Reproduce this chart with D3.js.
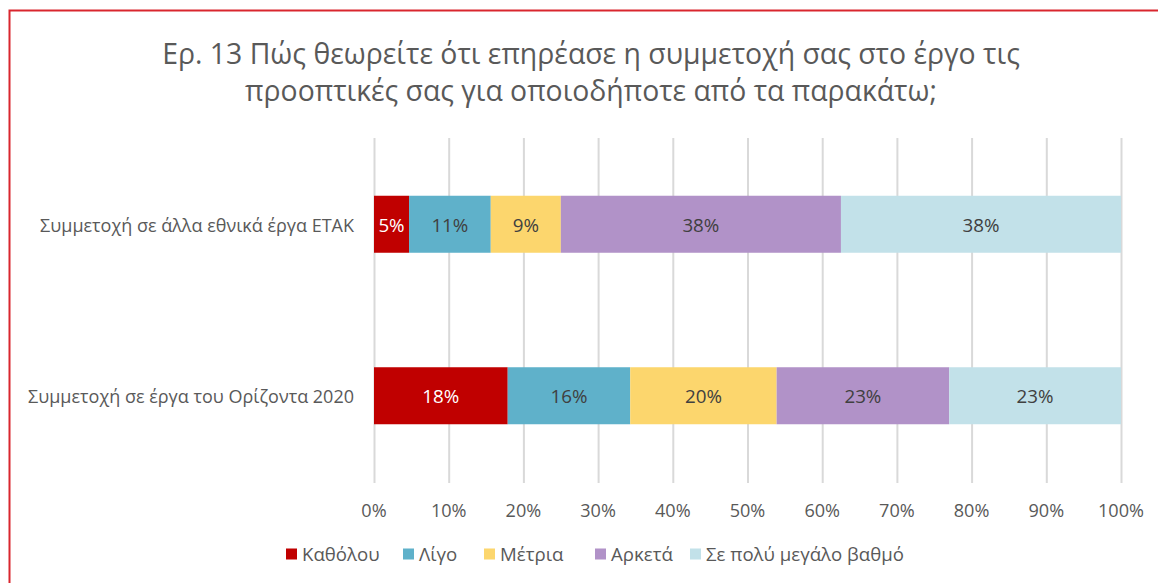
<!DOCTYPE html>
<html><head><meta charset="utf-8">
<script src="https://cdn.jsdelivr.net/npm/d3@7"></script>
<style>
html,body{margin:0;padding:0;background:#fff;}
svg{display:block;font-family:"Open Sans","Noto Sans",sans-serif;}
</style></head>
<body><svg id="chart" width="1158" height="583"></svg>
<script>
const titleLines = ["Ερ. 13 Πώς θεωρείτε ότι επηρέασε η συμμετοχή σας στο έργο τις", "προοπτικές σας για οποιοδήποτε από τα παρακάτω;"];
const categories = ["Συμμετοχή σε άλλα εθνικά έργα ΕΤΑΚ", "Συμμετοχή σε έργα του Ορίζοντα 2020"];
const seriesNames = ["Καθόλου", "Λίγο", "Μέτρια", "Αρκετά", "Σε πολύ μεγάλο βαθμό"];
const seriesColors = ["#C00000", "#5FB1CA", "#FCD66D", "#B192C8", "#C2E1E9"];
const labelColors = ["#ffffff", "#404040", "#404040", "#404040", "#404040"];
// values in % per category, per series
const valuesETAK = [4.69, 10.94, 9.38, 37.5, 37.5];
const valuesH2020 = [17.9, 16.4, 19.6, 23.1, 23.0];
const dataLabelsETAK = ["5%", "11%", "9%", "38%", "38%"];
const dataLabelsH2020 = ["18%", "16%", "20%", "23%", "23%"];
const xTicks = [0, 10, 20, 30, 40, 50, 60, 70, 80, 90, 100];

const rows = [
  {cat: categories[0], vals: valuesETAK, labels: dataLabelsETAK},
  {cat: categories[1], vals: valuesH2020, labels: dataLabelsH2020}
];

const svg = d3.select("#chart");

// font size so that a sample string gets a target width
function fitSize(sample, target) {
  const t = svg.append("text").style("font-size", "20px").text(sample);
  const w = t.node().getComputedTextLength();
  t.remove();
  return (20 * target / w).toFixed(2) + "px";
}
const catSize = fitSize(categories[1], 326);
const tickSize = fitSize("100%", 46);
const dataSize = fitSize("38%", 37);
const legendSize = fitSize(seriesNames[4], 198);

// outer border
svg.append("path").attr("d", "M9.5,583 L9.5,10.5 L1158,10.5")
  .attr("fill", "none").attr("stroke", "#D9262E").attr("stroke-width", 2);

const x = d3.scaleLinear().domain([0, 100]).range([374, 1121]);
const y = d3.scaleBand().domain(categories).range([138, 482]).paddingInner(0.6676).paddingOuter(0.3367);

// gridlines
svg.append("g").selectAll("line").data(xTicks).join("line")
  .attr("x1", d => x(d) + 0.5).attr("x2", d => x(d) + 0.5)
  .attr("y1", 138).attr("y2", 483)
  .attr("stroke", "#D9D9D9").attr("stroke-width", 2);

// title
svg.append("g").selectAll("text").data(titleLines).join("text")
  .attr("x", 591).attr("y", (d, i) => 64 + i * 37)
  .attr("text-anchor", "middle").attr("fill", "#595959")
  .style("font-size", "24px").text(d => d)
  .each(function(d, i) {
    const target = i === 0 ? 858 : 692;
    const w = this.getComputedTextLength();
    d3.select(this).style("font-size", (24 * target / w).toFixed(2) + "px");
  });

// bars
rows.forEach(r => {
  let acc = 0;
  const segs = r.vals.map((v, i) => { const s = {x0: acc, x1: acc + v, i, label: r.labels[i]}; acc += v; return s; });
  const g = svg.append("g");
  g.selectAll("rect").data(segs).join("rect")
    .attr("x", d => x(d.x0)).attr("width", d => x(d.x1) - x(d.x0))
    .attr("y", y(r.cat)).attr("height", y.bandwidth())
    .attr("fill", d => seriesColors[d.i]);
  g.selectAll("text").data(segs).join("text")
    .attr("x", d => (x(d.x0) + x(d.x1)) / 2)
    .attr("y", y(r.cat) + y.bandwidth() / 2 + 1)
    .attr("dy", "0.35em").attr("text-anchor", "middle")
    .attr("fill", d => labelColors[d.i]).style("font-size", dataSize)
    .text(d => d.label);
});

// category labels
svg.append("g").selectAll("text").data(categories).join("text")
  .attr("x", 354).attr("y", d => y(d) + y.bandwidth() / 2 + 1).attr("dy", "0.35em")
  .attr("text-anchor", "end").attr("fill", "#595959").style("font-size", catSize)
  .text(d => d);

// x axis tick labels
svg.append("g").selectAll("text").data(xTicks).join("text")
  .attr("x", d => x(d)).attr("y", 511).attr("dy", "0.35em")
  .attr("text-anchor", "middle").attr("fill", "#595959").style("font-size", tickSize)
  .text(d => d + "%");

// legend
const legendX = [286, 403, 484, 595, 690];
const lg = svg.append("g").selectAll("g").data(seriesNames).join("g")
  .attr("transform", (d, i) => `translate(${legendX[i]},554)`);
lg.append("rect").attr("x", 0).attr("y", -5.5).attr("width", 11).attr("height", 11)
  .attr("fill", (d, i) => seriesColors[i]);
lg.append("text").attr("x", 16).attr("y", 0).attr("dy", "0.35em")
  .attr("fill", "#595959").style("font-size", legendSize).text(d => d);
</script></body></html>
